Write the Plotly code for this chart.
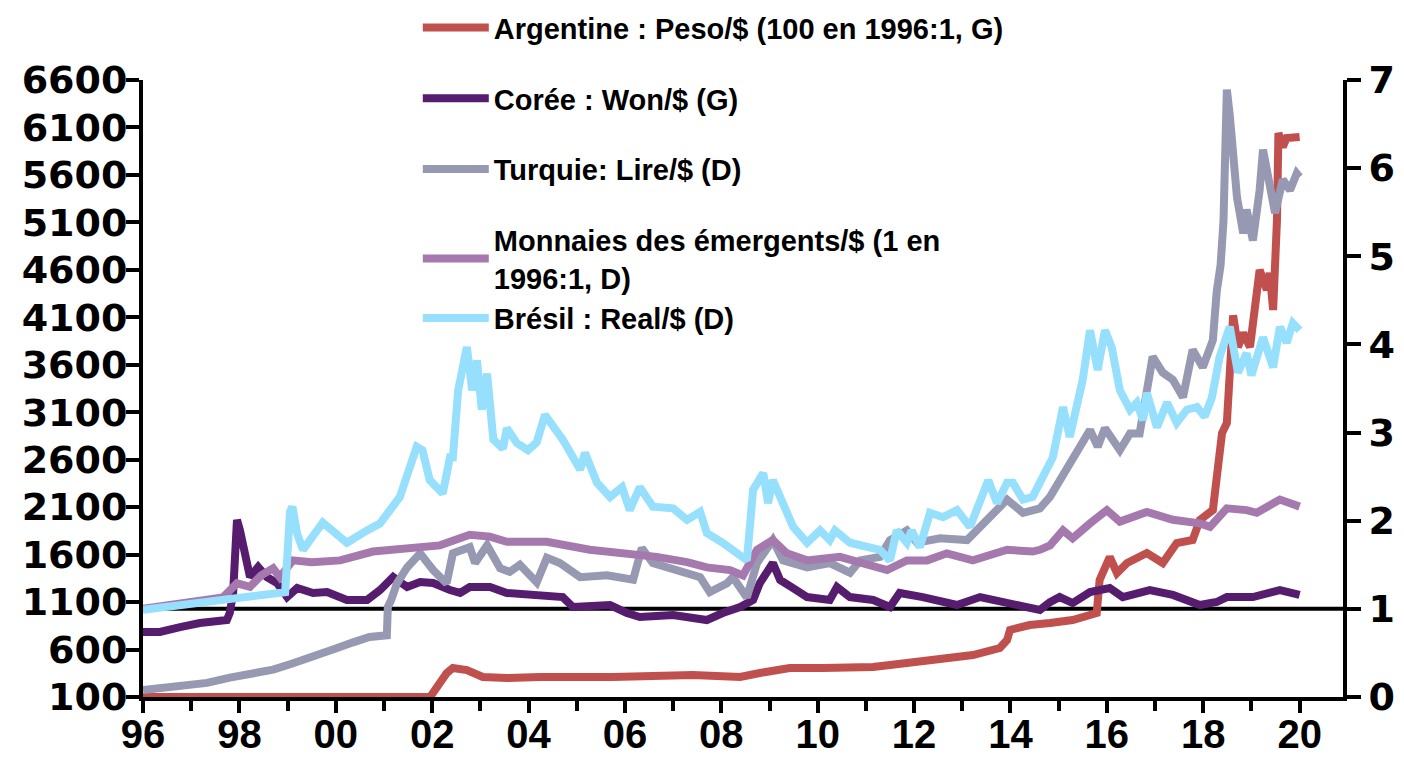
import plotly.graph_objects as go

# ---------------- data (decimal years) ----------------
years_ticks = list(range(1996, 2021, 2))
year_labels = ["96", "98", "00", "02", "04", "06", "08", "10", "12", "14", "16", "18", "20"]

arg_name = "Argentine : Peso/$ (100 en 1996:1, G)"
arg_t = [1996.0, 2001.95, 2002.0, 2002.1, 2002.16, 2002.3, 2002.43, 2002.72, 2003.05, 2003.55,
         2004.24, 2005.13, 2005.63, 2005.75, 2007.41, 2008.39, 2008.8, 2009.42, 2010.11, 2011.15,
         2011.85, 2012.54, 2013.22, 2013.78, 2013.93, 2013.99, 2014.4, 2014.82, 2015.29, 2015.79,
         2015.85, 2016.06, 2016.21, 2016.42, 2016.83, 2017.16, 2017.45, 2017.78, 2017.93, 2018.2,
         2018.28, 2018.39, 2018.49, 2018.55, 2018.62, 2018.72, 2018.83, 2018.97, 2019.11, 2019.17,
         2019.32, 2019.38, 2019.45, 2019.53, 2019.56, 2019.65, 2019.73, 2020.0]
arg_v = [100, 100, 130, 200, 247, 350, 405, 384, 311, 300,
         311, 300, 300, 311, 332, 311, 353, 405, 405, 416,
         458, 490, 542, 616, 700, 806, 858, 880, 911, 985,
         1333, 1575, 1406, 1512, 1617, 1512, 1722, 1754, 1965, 2070,
         2460, 2881, 2987, 3471, 4120, 3787, 3935, 3787, 4388, 4599,
         4388, 4567, 4177, 5125, 6042, 5894, 5989, 6000]

kor_name = "Corée : Won/$ (G)"
kor_t = [1996.0, 1996.35, 1996.77, 1997.18, 1997.74, 1997.8, 1997.87, 1997.95, 1998.01, 1998.07,
         1998.16, 1998.22, 1998.39, 1998.57, 1998.78, 1998.99, 1999.2, 1999.53, 1999.82, 2000.23,
         2000.65, 2000.92, 2001.19, 2001.48, 2001.75, 2002.02, 2002.37, 2002.58, 2002.78, 2003.2,
         2003.55, 2004.24, 2004.71, 2004.92, 2005.27, 2005.69, 2006.04, 2006.31, 2007.0, 2007.7,
         2008.03, 2008.39, 2008.66, 2008.8, 2009.07, 2009.22, 2009.49, 2009.78, 2010.25, 2010.4,
         2010.67, 2011.15, 2011.5, 2011.7, 2012.18, 2012.89, 2013.37, 2013.93, 2014.4, 2014.61,
         2014.82, 2015.02, 2015.29, 2015.65, 2016.06, 2016.33, 2016.89, 2017.37, 2017.93, 2018.28,
         2018.49, 2019.03, 2019.59, 2020.0]
kor_v = [785, 785, 837, 880, 911, 985, 1196, 1965, 1860, 1722,
         1575, 1364, 1470, 1364, 1301, 1153, 1248, 1196, 1206, 1122,
         1122, 1227, 1364, 1259, 1311, 1301, 1227, 1196, 1259, 1259,
         1196, 1175, 1153, 1048, 1048, 1069, 985, 943, 964, 911,
         985, 1048, 1122, 1301, 1512, 1333, 1248, 1153, 1122, 1259,
         1153, 1122, 1048, 1196, 1153, 1069, 1153, 1090, 1038, 1017,
         1100, 1153, 1090, 1206, 1248, 1153, 1227, 1175, 1069, 1101,
         1153, 1153, 1227, 1175]

tur_name = "Turquie: Lire/$ (D)"
tur_t = [1996.0, 1996.5, 1997.0, 1997.33, 1997.8, 1998.2, 1998.7, 1999.1, 1999.53, 2000.0,
         2000.36, 2000.7, 2001.06, 2001.08, 2001.15, 2001.27, 2001.48, 2001.75, 2002.02, 2002.22,
         2002.3, 2002.43, 2002.78, 2002.89, 2003.14, 2003.41, 2003.61, 2003.82, 2004.17, 2004.38,
         2004.65, 2005.07, 2005.63, 2006.17, 2006.35, 2006.58, 2007.14, 2007.56, 2007.76, 2008.12,
         2008.24, 2008.53, 2008.74, 2008.95, 2009.07, 2009.28, 2009.78, 2010.25, 2010.67, 2010.88,
         2011.29, 2011.5, 2011.85, 2012.06, 2012.54, 2013.1, 2013.51, 2013.93, 2014.26, 2014.61,
         2014.82, 2015.02, 2015.29, 2015.65, 2015.81, 2015.96, 2016.27, 2016.48, 2016.68, 2016.83,
         2016.95, 2017.16, 2017.37, 2017.58, 2017.78, 2017.99, 2018.2, 2018.28, 2018.36, 2018.42,
         2018.49, 2018.55, 2018.62, 2018.7, 2018.83, 2018.9, 2019.03, 2019.17, 2019.24, 2019.38,
         2019.49, 2019.65, 2019.8, 2019.94, 2020.0]
tur_v = [0.08, 0.11, 0.14, 0.16, 0.22, 0.26, 0.31, 0.38, 0.45, 0.55,
         0.62, 0.68, 0.70, 1.02, 1.10, 1.29, 1.47, 1.63, 1.44, 1.33,
         1.29, 1.63, 1.70, 1.52, 1.72, 1.46, 1.42, 1.50, 1.30, 1.58,
         1.52, 1.36, 1.38, 1.33, 1.69, 1.52, 1.42, 1.36, 1.19, 1.29,
         1.36, 1.13, 1.52, 1.70, 1.78, 1.55, 1.47, 1.52, 1.41, 1.55,
         1.59, 1.78, 1.89, 1.75, 1.80, 1.78, 2.01, 2.24, 2.09, 2.14,
         2.27, 2.46, 2.69, 3.03, 2.84, 3.05, 2.80, 2.99, 2.99, 3.48,
         3.86, 3.68, 3.60, 3.40, 3.94, 3.74, 4.05, 4.60, 4.90, 5.40,
         6.89, 6.60, 6.24, 5.67, 5.26, 5.53, 5.18, 5.75, 6.21, 5.75,
         5.49, 5.87, 5.75, 5.94, 5.90]

em_name = "Monnaies des émergents/$ (1 en<br>1996:1, D)"
em_t = [1996.0, 1996.5, 1997.0, 1997.66, 1997.95, 1998.22, 1998.45, 1998.7, 1998.84, 1999.11,
        1999.5, 2000.09, 2000.77, 2001.48, 2002.16, 2002.78, 2003.2, 2003.55, 2004.38, 2005.27,
        2006.04, 2006.66, 2007.29, 2007.7, 2008.18, 2008.45, 2008.74, 2009.07, 2009.36, 2009.78,
        2010.46, 2010.88, 2011.44, 2011.85, 2012.27, 2012.68, 2013.22, 2013.93, 2014.46, 2014.61,
        2014.82, 2015.09, 2015.29, 2015.65, 2016.0, 2016.27, 2016.83, 2017.37, 2017.93, 2018.14,
        2018.49, 2018.9, 2019.11, 2019.59, 2020.0]
em_v = [1.00, 1.04, 1.07, 1.13, 1.29, 1.25, 1.38, 1.46, 1.36, 1.55,
        1.53, 1.55, 1.65, 1.69, 1.72, 1.84, 1.82, 1.76, 1.76, 1.67,
        1.63, 1.59, 1.53, 1.47, 1.44, 1.38, 1.67, 1.78, 1.63, 1.55,
        1.59, 1.52, 1.44, 1.55, 1.55, 1.63, 1.55, 1.67, 1.65, 1.67,
        1.72, 1.89, 1.80, 1.97, 2.12, 1.99, 2.10, 2.01, 1.97, 1.93,
        2.14, 2.12, 2.09, 2.24, 2.16]

bra_name = "Brésil : Real/$ (D)"
bra_t = [1996.0, 1996.5, 1997.0, 1997.5, 1998.0, 1998.5, 1998.95, 1999.05, 1999.1, 1999.2,
         1999.32, 1999.73, 2000.23, 2000.65, 2000.92, 2001.33, 2001.68, 2001.8, 2001.95, 2002.22,
         2002.37, 2002.43, 2002.54, 2002.72, 2002.83, 2002.93, 2003.03, 2003.14, 2003.27, 2003.47,
         2003.55, 2003.76, 2003.99, 2004.17, 2004.34, 2004.71, 2005.07, 2005.17, 2005.42, 2005.69,
         2005.94, 2006.1, 2006.31, 2006.58, 2007.0, 2007.29, 2007.56, 2007.7, 2008.03, 2008.53,
         2008.66, 2008.87, 2008.97, 2009.07, 2009.28, 2009.49, 2009.78, 2010.05, 2010.25, 2010.36,
         2010.67, 2011.02, 2011.29, 2011.5, 2011.64, 2011.85, 2011.95, 2012.12, 2012.33, 2012.6,
         2012.89, 2013.16, 2013.37, 2013.54, 2013.72, 2013.93, 2014.05, 2014.26, 2014.46, 2014.67,
         2014.88, 2015.09, 2015.23, 2015.5, 2015.65, 2015.81, 2015.96, 2016.1, 2016.27, 2016.48,
         2016.62, 2016.75, 2016.83, 2017.04, 2017.25, 2017.45, 2017.66, 2017.87, 2018.03, 2018.18,
         2018.34, 2018.55, 2018.72, 2018.9, 2019.0, 2019.24, 2019.45, 2019.59, 2019.73, 2019.86,
         2020.0]
bra_v = [0.99, 1.02, 1.06, 1.10, 1.13, 1.16, 1.19, 2.10, 2.16, 1.85,
         1.67, 1.98, 1.75, 1.89, 1.97, 2.27, 2.84, 2.80, 2.46, 2.31,
         2.72, 2.72, 3.48, 3.97, 3.48, 3.82, 3.26, 3.67, 2.92, 2.82,
         3.05, 2.88, 2.80, 2.89, 3.20, 2.92, 2.58, 2.77, 2.43, 2.27,
         2.38, 2.12, 2.38, 2.16, 2.14, 2.01, 2.10, 1.86, 1.75, 1.55,
         2.35, 2.54, 2.20, 2.46, 2.20, 1.93, 1.75, 1.89, 1.78, 1.89,
         1.75, 1.70, 1.67, 1.55, 1.89, 1.75, 1.89, 1.70, 2.09, 2.04,
         2.12, 1.93, 2.24, 2.46, 2.20, 2.43, 2.43, 2.24, 2.27, 2.50,
         2.72, 3.29, 2.95, 3.60, 4.16, 3.71, 4.16, 3.97, 3.48, 3.26,
         3.34, 3.14, 3.45, 3.06, 3.34, 3.11, 3.26, 3.29, 3.18, 3.40,
         3.86, 4.20, 3.68, 3.90, 3.65, 4.08, 3.74, 4.20, 4.02, 4.24,
         4.16]

# ---------------- styles ----------------
C_ARG = "#C0504D"
C_KOR = "#561C6E"
C_TUR = "#9799B3"
C_EM = "#A679AE"
C_BRA = "#97E0FD"
LW = 8

fig = go.Figure()
fig.add_trace(go.Scatter(x=arg_t, y=arg_v, name=arg_name, mode="lines",
                         line=dict(color=C_ARG, width=LW), yaxis="y", legendgroup="g1"))
fig.add_trace(go.Scatter(x=kor_t, y=kor_v, name=kor_name, mode="lines",
                         line=dict(color=C_KOR, width=LW), yaxis="y", legendgroup="g2"))
fig.add_trace(go.Scatter(x=tur_t, y=tur_v, name=tur_name, mode="lines",
                         line=dict(color=C_TUR, width=LW), yaxis="y2", legendgroup="g3"))
fig.add_trace(go.Scatter(x=em_t, y=em_v, name=em_name, mode="lines",
                         line=dict(color=C_EM, width=LW), yaxis="y2", legendgroup="g4"))
fig.add_trace(go.Scatter(x=bra_t, y=bra_v, name=bra_name, mode="lines",
                         line=dict(color=C_BRA, width=LW), yaxis="y2", legendgroup="g4"))

tick_font = dict(family="DejaVu Sans", size=38, color="black", weight="bold")
x_font = dict(family="Liberation Sans, Arial", size=40, color="black", weight="bold")

fig.add_shape(type="line", xref="paper", x0=0, x1=1, yref="y2", y0=1, y1=1,
              line=dict(color="black", width=4), layer="below")

# The page places the figure 8 px from the top-left corner, so the figure is
# sized and its margins set so that the plot area lands where the reference has it.
fig.update_layout(
    width=1396, height=757,
    margin=dict(l=135, r=61, t=72, b=68, autoexpand=False),
    plot_bgcolor="white", paper_bgcolor="white",
    showlegend=True,
    legend=dict(x=0.229, y=1.126, xanchor="left", yanchor="top", itemwidth=66,
                bgcolor="rgba(0,0,0,0)", tracegroupgap=30,
                font=dict(family="Liberation Sans, Arial", size=29, color="black", weight="bold")),
    xaxis=dict(range=[1996, 2020.9], tickmode="array", tickvals=years_ticks, ticktext=year_labels,
               ticks="outside", ticklen=12, tickwidth=4, tickcolor="black",
               showline=True, linewidth=4, linecolor="black", showgrid=False, zeroline=False,
               tickfont=x_font, ticklabelstandoff=-13,
               minor=dict(tickmode="array", tickvals=list(range(1996, 2021)), ticks="outside",
                          ticklen=10, tickwidth=4, tickcolor="black", showgrid=False)),
    yaxis=dict(range=[100, 6600], tick0=100, dtick=500, ticks="outside", ticklen=13, tickwidth=4,
               tickcolor="black", showline=True, linewidth=4, linecolor="black",
               showgrid=False, zeroline=False, tickfont=tick_font, ticklabelstandoff=-9),
    yaxis2=dict(range=[0, 7], dtick=1, overlaying="y", side="right", ticks="outside", ticklen=14,
                tickwidth=4, tickcolor="black", showline=True, linewidth=4, linecolor="black",
                showgrid=False, zeroline=False, tickfont=tick_font, ticklabelstandoff=0),
)

fig.write_html("out.html")
